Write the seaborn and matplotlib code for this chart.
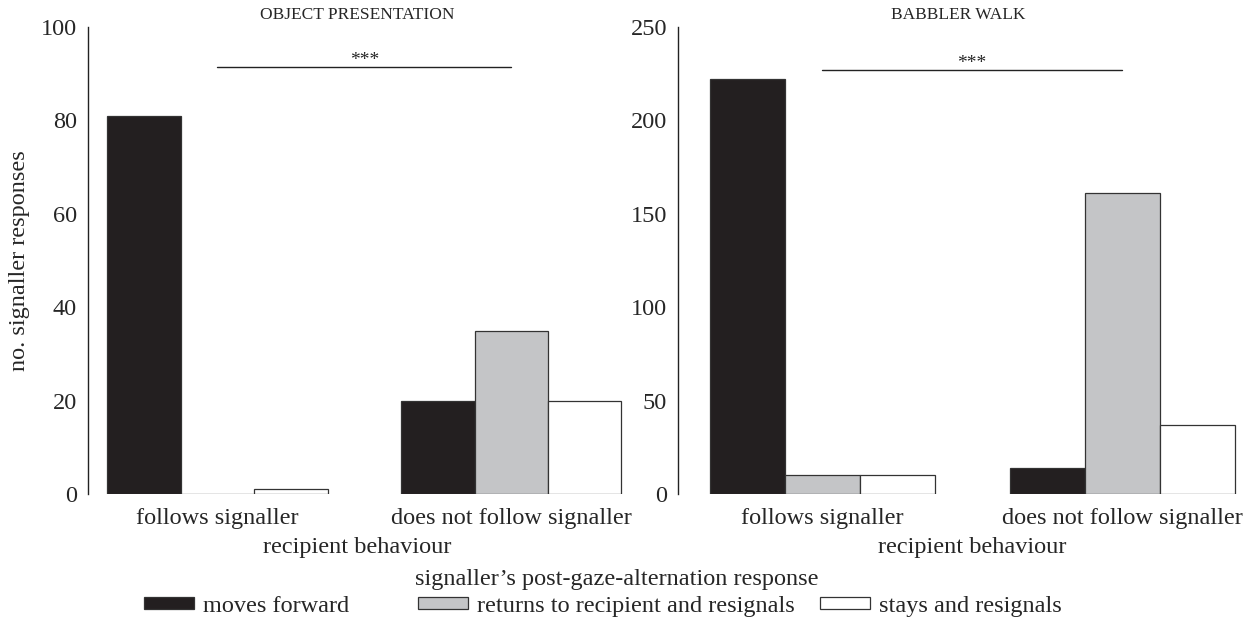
import numpy as np
import pandas as pd
import matplotlib
matplotlib.use('Agg')
import matplotlib.pyplot as plt
import seaborn as sns
from matplotlib.patches import Patch

# data
behaviours = ['follows signaller', 'does not follow signaller']
responses = ['moves forward', 'returns to recipient and resignals', 'stays and resignals']
object_counts = [[81, 0, 1], [20, 35, 20]]
walk_counts = [[222, 10, 10], [14, 161, 37]]
panel_titles = ['OBJECT PRESENTATION', 'BABBLER WALK']
y_limits = [100, 250]
y_ticks = [[0, 20, 40, 60, 80, 100], [0, 50, 100, 150, 200, 250]]
sig_heights = [91.5, 227]

colors = ['#231f20', '#c4c5c7', '#ffffff']

sns.set_style('white')
plt.rcParams['font.family'] = ['Liberation Serif', 'DejaVu Serif']
fs = 17.5

def make_frame(counts):
    rows = []
    for i, b in enumerate(behaviours):
        for j, r in enumerate(responses):
            rows.append({'behaviour': b, 'response': r, 'count': counts[i][j]})
    return pd.DataFrame(rows)

fig = plt.figure(figsize=(12.45, 6.2), dpi=100)
ax1 = fig.add_axes([0.0707, 0.2032, 0.432, 0.7532])
ax2 = fig.add_axes([0.5446, 0.2032, 0.4506, 0.7532])

for k, (ax, counts) in enumerate(zip([ax1, ax2], [object_counts, walk_counts])):
    df = make_frame(counts)
    sns.barplot(data=df, x='behaviour', y='count', hue='response',
                order=behaviours, hue_order=responses, palette=colors,
                width=0.75, gap=0, edgecolor='#333333', linewidth=0.9,
                saturation=1, legend=False, ax=ax)
    ax.set_ylim(0, y_limits[k])
    ax.set_yticks(y_ticks[k])
    if k == 0:
        ax.set_xlim(-0.44, 1.39)
    else:
        ax.set_xlim(-0.48, 1.39)
    sns.despine(ax=ax, top=True, right=True, bottom=True)
    ax.spines['left'].set_color('#222222')
    ax.spines['left'].set_linewidth(1.0)
    ax.tick_params(axis='y', direction='out', length=4, width=1, color='#222222',
                   labelsize=fs, pad=4)
    ax.tick_params(axis='x', length=0, labelsize=fs, pad=10)
    ax.set_xlabel('recipient behaviour', fontsize=fs)
    ax.set_ylabel('')
    ax.set_title(panel_titles[k], fontsize=12.5, pad=6)
    # significance bar between the two groups
    ax.plot([0, 1], [sig_heights[k], sig_heights[k]], color='#222222', lw=1)
    ax.text(0.5, sig_heights[k] - y_limits[k] * 0.004, '***', ha='center',
            va='bottom', fontsize=14)

ax1.xaxis.set_label_coords(0.5, -0.091)
ax2.xaxis.set_label_coords(0.524, -0.091)
ax1.set_ylabel('no. signaller responses', fontsize=fs, labelpad=8)

fig.text(0.4956, 0.066, 'signaller\u2019s post-gaze-alternation response',
         ha='center', va='center', fontsize=fs)

# legend entries sit at uneven spacing in the original, so place each one
legend_x = [0.1157, 0.3357, 0.6586]
for c, lab, lx in zip(colors, responses, legend_x):
    h = Patch(facecolor=c, edgecolor='#333333', linewidth=0.9)
    fig.legend([h], [lab], loc='center left', bbox_to_anchor=(lx, 0.022),
               frameon=False, fontsize=fs, handlelength=2.05, handleheight=0.35,
               handletextpad=0.38, borderpad=0, borderaxespad=0)

plt.savefig('out.png', dpi=100)
